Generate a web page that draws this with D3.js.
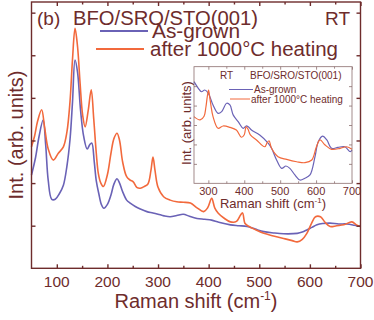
<!DOCTYPE html>
<html><head><meta charset="utf-8">
<script src="https://cdn.jsdelivr.net/npm/d3@7/dist/d3.min.js"></script>
<style>body{margin:0;background:#fff}svg{display:block}text{font-family:"Liberation Sans",Arial,sans-serif}</style>
</head><body><svg id="c" width="374" height="320"></svg>
<script>
// ---- Main panel data (Raman shift cm^-1, intensity arb. units) ----
const mainBlueShift = [50,58,65,73,78,83,90,97,105,113,120,126,131,136,141,147,153,160,165,169,174,178,183,188,193,200,207,213,219,224,230,238,245,255,265,278,290,300,312,324,337,350,362,377,392,406,420,443,460,476,492,509,528,548,575,585,594,604,614,625,640,657,673,688,700];
const mainBlueInt   = [2.19,2.6,3.1,3.48,2.9,2.07,1.62,1.62,1.75,1.95,2.4,3.01,3.9,4.89,4.6,3.7,3.1,2.8,2.9,2.94,2.5,2.05,1.75,1.5,1.41,1.5,1.72,1.98,2.1,2.0,1.8,1.6,1.53,1.45,1.39,1.33,1.3,1.27,1.23,1.21,1.24,1.27,1.22,1.17,1.15,1.13,1.08,1.02,1.0,0.98,0.92,0.86,0.83,0.81,0.82,0.85,0.9,0.96,1.02,1.05,1.06,1.04,1.04,1.01,0.98];
const mainOrangeShift = [50,56,62,70,76,83,93,103,113,120,126,131,136,141,146,151,156,162,168,173,178,182,187,192,200,207,213,219,224,230,238,245,251,258,265,273,280,286,290,294,300,311,324,337,350,364,377,390,398,406,412,419,430,443,455,463,467,472,480,490,509,528,548,565,575,585,594,603,611,621,630,640,653,667,683,692,700];
const mainOrangeInt   = [2.85,3.1,3.45,3.72,3.3,2.8,2.54,2.7,2.85,3.2,3.9,4.9,5.63,5.2,4.34,3.6,3.32,3.7,4.19,3.5,2.7,2.23,2.0,1.92,2.2,2.7,3.05,3.17,3.0,2.5,2.15,2.07,2.03,1.9,1.88,1.92,1.98,2.3,2.61,2.3,1.9,1.68,1.6,1.56,1.55,1.53,1.42,1.33,1.42,1.64,1.42,1.29,1.18,1.09,1.1,1.25,1.3,1.05,0.98,0.92,0.82,0.76,0.7,0.65,0.62,0.68,0.82,1.05,1.21,1.21,1.08,0.98,1.0,1.02,1.09,1.02,0.98];
// ---- Inset data ----
const insetBlueShift = [260,272,281,290,300,313,327,337,351,360,369,383,397,405,411,420,443,467,476,490,504,516,527,541,555,569,583,597,606,618,630,643,661,680,695,700];
const insetBlueInt   = [5.23,4.89,4.71,4.8,4.63,4.03,3.6,3.69,4.12,4.03,3.52,3.17,2.83,2.95,2.91,2.74,2.49,2.06,1.8,1.2,0.77,0.89,0.77,0.43,0.17,0.26,0.43,1.37,2.14,2.43,2.23,1.8,1.85,1.88,1.63,1.71];
const insetOrangeShift = [260,277,288,293,297,300.5,304,307,313,327,341,360,378,392,400,405,410,417,434,457,464,469,476,494,518,546,569,588,601,611,625,643,667,685,700];
const insetOrangeInt   = [3.43,3.26,3.45,3.9,4.46,4.8,4.4,4.03,3.43,2.83,2.95,2.88,2.74,2.37,2.5,2.9,2.8,2.49,2.23,1.88,2.1,2.19,1.8,1.37,1.23,1.11,1.06,1.2,1.88,2.23,1.97,1.75,1.8,1.88,1.75];
// ---- Ticks / labels ----
const mainXTicks = [100,200,300,400,500,600,700];
const mainXMinor = [150,250,350,450,550,650];
const mainYTicks = [1,2,3,4,5,6];
const insetXTicks = [300,400,500,600,700];
const insetXMinor = [350,450,550,650];
const insetYTicks = [1,2,3,4,5];
const seriesNames = ["As-grown","after 1000°C heating"];

const AX = "#6e2c2c", BLUE = "#6a62b6", ORANGE = "#f2693c";
const svg = d3.select("#c");

// Main scales
const x = d3.scaleLinear().domain([50,700]).range([31.5,360.5]);
const y = d3.scaleLinear().domain([0,6.25]).range([268.3,2]);

function frame(g, xs, ys, xt, xm, yt, color, sw, tl, tm){
  const [x0,x1] = xs.range(), [y0,y1] = ys.range();
  g.append("rect").attr("x",x0).attr("y",y1).attr("width",x1-x0).attr("height",y0-y1)
    .attr("fill","none").attr("stroke",color).attr("stroke-width",sw);
  const bottom = d3.axisBottom(xs).tickValues(xt).tickSizeInner(-tl).tickSizeOuter(0).tickFormat("");
  const bottomM = d3.axisBottom(xs).tickValues(xm).tickSizeInner(-tm).tickSizeOuter(0).tickFormat("");
  const top = d3.axisTop(xs).tickValues(xt).tickSizeInner(-tl).tickSizeOuter(0).tickFormat("");
  const topM = d3.axisTop(xs).tickValues(xm).tickSizeInner(-tm).tickSizeOuter(0).tickFormat("");
  const left = d3.axisLeft(ys).tickValues(yt).tickSizeInner(-tl).tickSizeOuter(0).tickFormat("");
  const right = d3.axisRight(ys).tickValues(yt).tickSizeInner(-tl).tickSizeOuter(0).tickFormat("");
  [[bottom,`translate(0,${y0})`],[bottomM,`translate(0,${y0})`],[top,`translate(0,${y1})`],[topM,`translate(0,${y1})`],
   [left,`translate(${x0},0)`],[right,`translate(${x1},0)`]].forEach(([a,t])=>{
    const ag = g.append("g").attr("transform",t).call(a);
    ag.select(".domain").remove();
    ag.selectAll("line").attr("stroke",color).attr("stroke-width",sw);
  });
}

// Main curves
const mainLine = d3.line().x(d=>x(d[0])).y(d=>y(d[1])).curve(d3.curveCatmullRom.alpha(0.5));
svg.append("path").datum(mainBlueShift.map((s,i)=>[s,mainBlueInt[i]]))
  .attr("d",mainLine).attr("fill","none").attr("stroke",BLUE).attr("stroke-width",1.6);
svg.append("path").datum(mainOrangeShift.map((s,i)=>[s,mainOrangeInt[i]]))
  .attr("d",mainLine).attr("fill","none").attr("stroke",ORANGE).attr("stroke-width",1.6);

const gm = svg.append("g");
frame(gm, x, y, mainXTicks, mainXMinor, mainYTicks, AX, 1.4, 4, 2.5);

// Main tick labels
svg.append("g").selectAll("text").data(mainXTicks).join("text")
  .attr("x",d=>x(d)).attr("y",287).attr("text-anchor","middle")
  .attr("font-size",15.5).attr("fill",AX).text(d=>d);

// Main axis titles
const xt = svg.append("text").attr("x",196).attr("y",308).attr("text-anchor","middle")
  .attr("font-size",20).attr("fill",AX);
xt.append("tspan").text("Raman shift (cm");
xt.append("tspan").attr("font-size",12).attr("dy",-8).text("-1");
xt.append("tspan").attr("dy",8).text(")");

svg.append("text").attr("transform","translate(23,135) rotate(-90)").attr("text-anchor","middle")
  .attr("font-size",20).attr("fill",AX).text("Int. (arb. units)");

// Main annotations
svg.append("text").attr("x",37).attr("y",25).attr("font-size",19).attr("fill",AX).text("(b)");
svg.append("text").attr("x",73).attr("y",25).attr("font-size",21).attr("fill",AX)
  .attr("textLength",185).attr("lengthAdjust","spacingAndGlyphs").text("BFO/SRO/STO(001)");
svg.append("text").attr("x",350).attr("y",25).attr("text-anchor","end").attr("font-size",19).attr("fill",AX).text("RT");

// Main legend
const legY = [31,49], legX0 = [100,96], legX1 = [148,144], legTx = [152,150], legBase = [38,56], legLen = [88,188];
[BLUE,ORANGE].forEach((c,i)=>{
  svg.append("line").attr("x1",legX0[i]).attr("x2",legX1[i]).attr("y1",legY[i]).attr("y2",legY[i])
    .attr("stroke",c).attr("stroke-width",1.8);
  svg.append("text").attr("x",legTx[i]).attr("y",legBase[i]).attr("font-size",20).attr("fill",AX)
    .attr("textLength",legLen[i]).attr("lengthAdjust","spacingAndGlyphs").text(seriesNames[i]);
});

// ---- Inset ----
const ix = d3.scaleLinear().domain([260,700]).range([194,352]);
const iy = d3.scaleLinear().domain([0,6]).range([183.3,66.7]);
svg.append("rect").attr("x",194).attr("y",66.7).attr("width",158).attr("height",116.6).attr("fill","#fff");
const insetLine = d3.line().x(d=>ix(d[0])).y(d=>iy(d[1])).curve(d3.curveCatmullRom.alpha(0.5));
svg.append("path").datum(insetBlueShift.map((s,i)=>[s,insetBlueInt[i]]))
  .attr("d",insetLine).attr("fill","none").attr("stroke",BLUE).attr("stroke-width",1.2);
svg.append("path").datum(insetOrangeShift.map((s,i)=>[s,insetOrangeInt[i]]))
  .attr("d",insetLine).attr("fill","none").attr("stroke",ORANGE).attr("stroke-width",1.2);
const gi = svg.append("g");
frame(gi, ix, iy, insetXTicks, insetXMinor, insetYTicks, "#8c6e6e", 0.8, 3, 2);

svg.append("g").selectAll("text").data(insetXTicks).join("text")
  .attr("x",d=>ix(d)).attr("y",195).attr("text-anchor","middle")
  .attr("font-size",11).attr("fill",AX).text(d=>d);
const ixt = svg.append("text").attr("x",273).attr("y",208).attr("text-anchor","middle")
  .attr("font-size",13).attr("fill",AX);
ixt.append("tspan").text("Raman shift (cm");
ixt.append("tspan").attr("font-size",8).attr("dy",-5).text("-1");
ixt.append("tspan").attr("dy",5).text(")");
svg.append("text").attr("transform","translate(191,123) rotate(-90)").attr("text-anchor","middle")
  .attr("font-size",13).attr("fill",AX).text("Int. (arb. units)");

svg.append("text").attr("x",220).attr("y",79).attr("font-size",10).attr("fill",AX).text("RT");
svg.append("text").attr("x",250).attr("y",79).attr("font-size",10).attr("fill",AX).text("BFO/SRO/STO(001)");
const ilegY = [89.5,99], ilegX0 = [229,230], ilegX1 = [253,250], ilegTx = [254,251];
[BLUE,ORANGE].forEach((c,i)=>{
  svg.append("line").attr("x1",ilegX0[i]).attr("x2",ilegX1[i]).attr("y1",ilegY[i]).attr("y2",ilegY[i])
    .attr("stroke",c).attr("stroke-width",1);
  svg.append("text").attr("x",ilegTx[i]).attr("y",ilegY[i]+3.5).attr("font-size",10).attr("fill",AX).text(seriesNames[i]);
});
</script></body></html>
